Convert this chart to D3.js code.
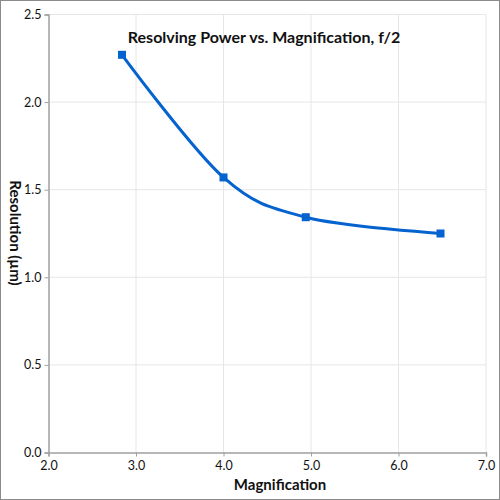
<!DOCTYPE html>
<html>
<head>
<meta charset="UTF-8">
<script src="https://d3js.org/d3.v7.min.js"></script>
<style>
  body { margin: 0; background: #fff; }
  svg { display: block; font-family: Lato, "Open Sans", sans-serif; }
</style>
</head>
<body>
<svg></svg>
<script>
  const magnification = [2.84, 4.0, 4.94, 6.48];
  const resolution = [2.27, 1.57, 1.343, 1.25];
  const xTicks = [2, 3, 4, 5, 6, 7];
  const yTicks = [0, 0.5, 1, 1.5, 2, 2.5];

  let width = 500, height = 500;
  let margin = { left: 48.5, right: 14, top: 14.5, bottom: 47.5 };

  let svg = d3.select("svg").attr("width", width).attr("height", height);

  svg.append("rect")
    .attr("x", 0.5).attr("y", 0.5)
    .attr("width", width - 1).attr("height", height - 1)
    .attr("fill", "#fff").attr("stroke", "#8a8a8a").attr("stroke-width", 1);

  let x = d3.scaleLinear().domain([2, 7]).range([margin.left, width - margin.right]);
  let y = d3.scaleLinear().domain([0, 2.5]).range([height - margin.bottom, margin.top]);

  // grid
  svg.append("g").selectAll("line").data(xTicks.slice(1)).enter().append("line")
    .attr("x1", d => x(d)).attr("x2", d => x(d))
    .attr("y1", y(0)).attr("y2", y(2.5))
    .attr("stroke", "#e6e6e6").attr("stroke-width", 1);
  svg.append("g").selectAll("line").data(yTicks.slice(1)).enter().append("line")
    .attr("x1", x(2)).attr("x2", x(7))
    .attr("y1", d => y(d)).attr("y2", d => y(d))
    .attr("stroke", "#e6e6e6").attr("stroke-width", 1);

  // axes
  let xAxis = svg.append("g")
    .attr("transform", "translate(0," + y(0) + ")")
    .call(d3.axisBottom(x).tickValues(xTicks).tickFormat(d3.format(".1f")).tickSize(4).tickPadding(0));
  let yAxis = svg.append("g")
    .attr("transform", "translate(" + x(2) + ",0)")
    .call(d3.axisLeft(y).tickValues(yTicks).tickFormat(d3.format(".1f")).tickSize(4).tickPadding(3));

  [xAxis, yAxis].forEach(a => {
    a.select(".domain").attr("stroke", "#a0a0a0").attr("stroke-width", 1.5);
    a.selectAll(".tick line").attr("stroke", "#a0a0a0");
    a.selectAll("text").attr("fill", "#111").style("font-size", "12.5px").style("font-family", "Lato, 'Open Sans', sans-serif");
  });
  xAxis.selectAll("text").attr("dy", "1.05em");

  // curve
  let line = d3.line()
    .x((d, i) => x(magnification[i]))
    .y(d => y(d))
    .curve(d3.curveCardinal.tension(0));

  svg.append("path")
    .datum(resolution)
    .attr("d", line)
    .attr("fill", "none")
    .attr("stroke", "#0563d0")
    .attr("stroke-width", 3);

  svg.append("g").selectAll("rect").data(resolution).enter().append("rect")
    .attr("x", (d, i) => x(magnification[i]) - 4)
    .attr("y", d => y(d) - 4)
    .attr("width", 8).attr("height", 8)
    .attr("fill", "#0563d0");

  // labels
  svg.append("text")
    .attr("x", 264).attr("y", 43)
    .attr("text-anchor", "middle")
    .style("font-size", "16px").style("font-weight", "bold")
    .attr("fill", "#111")
    .text("Resolving Power vs. Magnification, f/2");

  svg.append("text")
    .attr("x", 280).attr("y", 490)
    .attr("text-anchor", "middle")
    .style("font-size", "15px").style("font-weight", "bold")
    .attr("fill", "#111")
    .text("Magnification");

  svg.append("text")
    .attr("transform", "translate(10,233) rotate(90)")
    .attr("text-anchor", "middle")
    .style("font-size", "15px").style("font-weight", "bold")
    .attr("fill", "#111")
    .text("Resolution (µm)");
</script>
</body>
</html>
